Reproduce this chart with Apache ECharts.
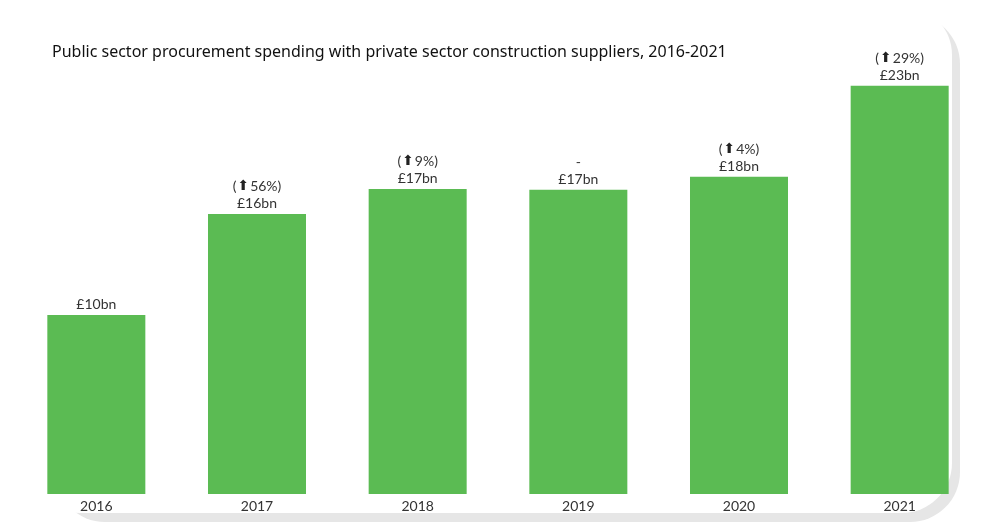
<!DOCTYPE html>
<html>
<head>
<meta charset="utf-8">
<script src="https://cdn.jsdelivr.net/npm/echarts@6/dist/echarts.min.js"></script>
<style>
html,body{margin:0;padding:0;background:#fff;}
#chart{width:1000px;height:523px;}
</style>
</head>
<body>
<div id="chart"></div>
<script>
var categories = ['2016', '2017', '2018', '2019', '2020', '2021'];
var values = [10.08, 15.77, 17.18, 17.13, 17.86, 22.99];
var valueLabels = ['£10bn', '£16bn', '£17bn', '£17bn', '£18bn', '£23bn'];
var changeLabels = [null, '56%', '9%', '-', '4%', '29%'];
var titleText = 'Public sector procurement spending with private sector construction suppliers, 2016-2021';

var chart = echarts.init(document.getElementById('chart'));
chart.setOption({
  animation: false,
  backgroundColor: '#ffffff',
  title: {
    text: titleText,
    left: 47, top: 39,
    textStyle: { fontFamily: 'Noto Sans', fontSize: 16, fontWeight: 'normal', color: '#111' }
  },
  graphic: [
    { type: 'rect', z: -20, shape: { x: 55, y: 14, width: 905, height: 508, r: 50 }, style: { fill: '#e6e6e6' } },
    { type: 'rect', z: -19, shape: { x: 30, y: 5, width: 922, height: 508, r: 50 }, style: { fill: '#ffffff' } }
  ],
  grid: { left: 16, right: 20, top: 50, bottom: 29, containLabel: false },
  xAxis: {
    type: 'category',
    data: categories,
    axisLine: { show: false },
    axisTick: { show: false },
    axisLabel: { margin: 4, fontFamily: 'Lato', fontSize: 14, color: '#333', verticalAlign: 'top', lineHeight: 16 }
  },
  yAxis: {
    type: 'value', min: 0, max: 25, show: false,
    splitLine: { show: false }
  },
  series: [{
    type: 'bar',
    data: values,
    barCategoryGap: '39%',
    itemStyle: { color: '#5bbb53' },
    label: {
      show: true,
      position: 'top',
      distance: 2,
      formatter: function (p) {
        var i = p.dataIndex;
        var c = changeLabels[i];
        var first = '';
        if (c === '-') first = '{t|-}\n';
        else if (c) first = '{t|(}{a|⬆}{t|' + c + ')}\n';
        return first + '{t|' + valueLabels[i] + '}';
      },
      rich: {
        t: { fontFamily: 'Lato', fontSize: 14, color: '#333', lineHeight: 17 },
        a: { fontFamily: 'DejaVu Sans', fontSize: 14, color: '#222', lineHeight: 17, padding: [0, 1, 0, 1] }
      }
    }
  }]
});
</script>
</body>
</html>
